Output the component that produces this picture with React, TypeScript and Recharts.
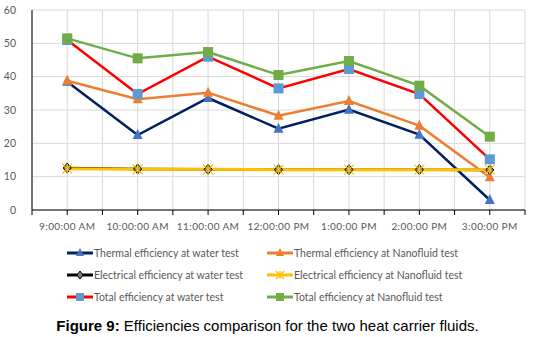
import { CartesianGrid, Legend, Line, LineChart, XAxis, YAxis } from 'recharts'

const times = [
  '9:00:00 AM',
  '10:00:00 AM',
  '11:00:00 AM',
  '12:00:00 PM',
  '1:00:00 PM',
  '2:00:00 PM',
  '3:00:00 PM',
]
const thermalWater = [38.5, 22.5, 33.6, 24.4, 30.1, 22.6, 3]
const thermalNano = [38.8, 33.2, 35.2, 28.3, 32.7, 25.3, 9.8]
const electricalWater = [12.6, 12.3, 12.2, 12.1, 12.1, 12.1, 12]
const electricalNano = [12.4, 12.2, 12.2, 12.1, 12.1, 12.1, 12.1]
const totalWater = [51, 34.8, 46, 36.5, 42.3, 34.8, 15.2]
const totalNano = [51.5, 45.5, 47.4, 40.5, 44.7, 37.3, 22]
const yTicks = [0, 10, 20, 30, 40, 50, 60]

const data = times.map((t, i) => ({
  time: t,
  thermalWater: thermalWater[i],
  thermalNano: thermalNano[i],
  electricalWater: electricalWater[i],
  electricalNano: electricalNano[i],
  totalWater: totalWater[i],
  totalNano: totalNano[i],
}))

type Shape = 'triangle' | 'diamond' | 'cross' | 'square'

const series: { key: string; name: string; stroke: string; fill: string; shape: Shape; width: number }[] = [
  { key: 'thermalWater', name: 'Thermal efficiency at water test', stroke: '#002060', fill: '#4472C4', shape: 'triangle', width: 2.5 },
  { key: 'thermalNano', name: 'Thermal efficiency at Nanofluid test', stroke: '#ED7D31', fill: '#ED7D31', shape: 'triangle', width: 2.5 },
  { key: 'electricalWater', name: 'Electrical efficiency at water test', stroke: '#000000', fill: '#7F7F7F', shape: 'diamond', width: 2.5 },
  { key: 'electricalNano', name: 'Electrical efficiency at Nanofluid test', stroke: '#FFC000', fill: '#FFC000', shape: 'cross', width: 3 },
  { key: 'totalWater', name: 'Total efficiency at water test', stroke: '#FF0000', fill: '#5B9BD5', shape: 'square', width: 2.5 },
  { key: 'totalNano', name: 'Total efficiency at Nanofluid test', stroke: '#70AD47', fill: '#70AD47', shape: 'square', width: 2.5 },
]

const W = 535
const H = 312
const M = { top: 10, right: 10, left: 0, bottom: 0 }
const Y_W = 32
const BAND = (W - M.left - M.right - Y_W) / times.length

function Marker({ cx, cy, shape, fill, stroke, s = 5 }: any) {
  if (cx == null || cy == null) return null
  if (shape === 'triangle')
    return <polygon points={`${cx},${cy - s - 1} ${cx - s},${cy + s - 1} ${cx + s},${cy + s - 1}`} fill={fill} />
  if (shape === 'square')
    return <rect x={cx - s} y={cy - s} width={s * 2} height={s * 2} fill={fill} />
  if (shape === 'diamond')
    return (
      <polygon
        points={`${cx},${cy - s} ${cx + s - 1},${cy} ${cx},${cy + s} ${cx - s + 1},${cy}`}
        fill={fill}
        stroke="#000"
        strokeWidth={1}
      />
    )
  return (
    <g stroke={stroke} strokeWidth={1.2}>
      <line x1={cx - s} y1={cy - s} x2={cx + s} y2={cy + s} />
      <line x1={cx - s} y1={cy + s} x2={cx + s} y2={cy - s} />
      <line x1={cx} y1={cy - s} x2={cx} y2={cy + s} />
    </g>
  )
}

function XTick({ x, y, payload, index }: any) {
  const last = index === times.length - 1
  return (
    <g>
      <line x1={x} y1={y - 8} x2={x} y2={y - 3} stroke="#000" />
      <line x1={x - BAND / 2} y1={y - 8} x2={x - BAND / 2} y2={y - 3} stroke="#000" />
      {last && <line x1={x + BAND / 2} y1={y - 8} x2={x + BAND / 2} y2={y - 3} stroke="#000" />}
      <text x={x} y={y + 12} textAnchor="middle" fontSize={10} fill="#595959" letterSpacing={0.4}>
        {payload.value}
      </text>
    </g>
  )
}

function LegendContent() {
  return (
    <div style={{ display: 'grid', gridTemplateColumns: '200px 230px', rowGap: 8, paddingLeft: 67, paddingTop: 8 }}>
      {series.map((s) => (
        <div key={s.key} style={{ display: 'flex', alignItems: 'center', height: 14, fontSize: 10.5, color: '#595959', whiteSpace: 'nowrap' }}>
          <svg width={26} height={12} style={{ marginRight: 1 }}>
            <line x1={0} y1={6} x2={26} y2={6} stroke={s.stroke} strokeWidth={3} />
            <Marker cx={13} cy={6} shape={s.shape} fill={s.fill} stroke={s.stroke} s={4} />
          </svg>
          {s.name}
        </div>
      ))}
    </div>
  )
}

export default function App() {
  return (
    <div style={{ position: 'absolute', left: 0, top: 0, width: W, height: 337, background: '#fff', fontFamily: 'Lato, "Open Sans", sans-serif' }}>
      <LineChart width={W} height={H} data={data} margin={M}>
        <CartesianGrid
          stroke="#D9D9D9"
          verticalCoordinatesGenerator={({ offset }: any) =>
            Array.from({ length: times.length * 2 + 1 }, (_, i) => offset.left + (i * offset.width) / (times.length * 2))
          }
        />
        <XAxis
          dataKey="time"
          interval={0}
          tickLine={false}
          stroke="#000"
          height={28}
          padding={{ left: BAND / 2, right: BAND / 2 }}
          tick={<XTick />}
        />
        <YAxis
          domain={[0, 60]}
          ticks={yTicks}
          width={Y_W}
          tickLine={false}
          axisLine={{ stroke: '#000' }}
          tick={{ fontSize: 10.5, fill: '#595959' }}
          tickMargin={10}
        />
        <Legend verticalAlign="bottom" height={74} content={<LegendContent />} />
        {series.map((s) => (
          <Line
            key={s.key}
            dataKey={s.key}
            name={s.name}
            stroke={s.stroke}
            strokeWidth={s.width}
            isAnimationActive={false}
            dot={(p: any) => <Marker key={`${s.key}-${p.index}`} cx={p.cx} cy={p.cy} shape={s.shape} fill={s.fill} stroke={s.stroke} />}
            activeDot={false}
          />
        ))}
      </LineChart>
      <div style={{ textAlign: 'center', fontFamily: '"Liberation Sans", Arial, sans-serif', fontSize: 15, marginTop: 5, color: '#000' }}>
        <b>Figure 9:</b> Efficiencies comparison for the two heat carrier fluids.
      </div>
    </div>
  )
}
